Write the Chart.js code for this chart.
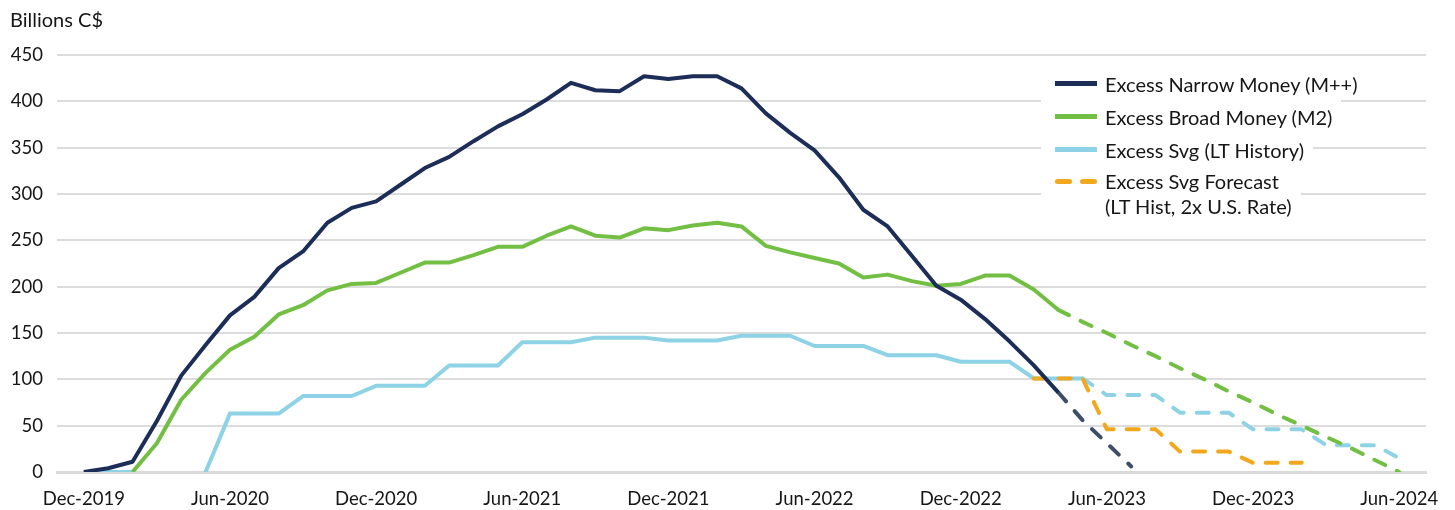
<!DOCTYPE html>
<html>
<head>
<meta charset="utf-8">
<script src="https://cdn.jsdelivr.net/npm/chart.js@4/dist/chart.umd.min.js"></script>
<style>
  body { margin: 0; background: #fff; font-family: Lato, sans-serif; color: #161616; }
  #wrap { position: relative; width: 1455px; height: 510px; }
  #unit { position: absolute; left: 10px; top: 7px; font-size: 20px; }
  #legend { position: absolute; left: 1041px; top: 67px; font-size: 20px; }
  .row { display: flex; align-items: center; height: 33px; background: #fff; width: fit-content; padding-right: 9px; }
  .row.two { align-items: flex-start; height: auto; padding-top: 3px; line-height: 25px; }
  .sw { width: 42px; height: 5px; margin: 0 8px 0 14px; flex: none; }
  .two .sw { margin-top: 10px; }
  .dash { display: flex; justify-content: space-between; }
  .dash span { width: 17px; height: 5px; border-radius: 3px; background: #f2a81e; }
</style>
</head>
<body>
<div id="wrap">
  <canvas id="moneyChart" width="1455" height="510"></canvas>
  <div id="unit">Billions C$</div>
  <div id="legend">
    <div class="row"><div class="sw" style="background:#1c2e58"></div>Excess Narrow Money (M++)</div>
    <div class="row"><div class="sw" style="background:#72bf44"></div>Excess Broad Money (M2)</div>
    <div class="row"><div class="sw" style="background:#8dd2e5"></div>Excess Svg (LT History)</div>
    <div class="row two"><div class="sw dash"><span></span><span></span></div><div>Excess Svg Forecast<br>(LT Hist, 2x U.S. Rate)</div></div>
  </div>
</div>
<script>
// Months from Dec-2019 (index 0) to Jun-2024 (index 54)
const tickPos = [0, 6, 12, 18, 24, 30, 36, 42, 48, 54];
const tickLabels = ['Dec-2019', 'Jun-2020', 'Dec-2020', 'Jun-2021', 'Dec-2021',
    'Jun-2022', 'Dec-2022', 'Jun-2023', 'Dec-2023', 'Jun-2024'];

const narrow = [0, 4, 11, 55, 104, 137, 169, 189, 220, 238, 269, 285,
    292, 310, 328, 340, 357, 373, 386, 402, 420, 412, 411, 427,
    424, 427, 427, 414, 387, 366, 347, 318, 283, 265, 233, 201,
    186, 165, 141, 115, 86];
const narrowFcst = {40: 86, 41: 56, 42: 31, 43: 6};

const broad = [null, null, 0, 31, 78, 107, 132, 146, 170, 180, 196, 203,
    204, 215, 226, 226, 234, 243, 243, 255, 265, 255, 253, 263,
    261, 266, 269, 265, 244, 237, 231, 225, 210, 213, 206, 201,
    203, 212, 212, 197, 175];
const broadFcst = {40: 175, 41: 162, 42: 150, 43: 137, 44: 125, 45: 112, 46: 100,
    47: 87, 48: 75, 49: 62, 50: 50, 51: 38, 52: 26, 53: 13, 54: 0};

const saving = [0, 0, 0, -40, -40, 0, 63, 63, 63, 82, 82, 82,
    93, 93, 93, 115, 115, 115, 140, 140, 140, 145, 145, 145,
    142, 142, 142, 147, 147, 147, 136, 136, 136, 126, 126, 126,
    119, 119, 119, 101, 101, 101];
const savingFcst = {41: 101, 42: 83, 43: 83, 44: 83, 45: 64, 46: 64, 47: 64,
    48: 46, 49: 46, 50: 46, 51: 29, 52: 29, 53: 29, 54: 15};

const savingUS = {39: 101, 40: 101, 41: 101, 42: 46, 43: 46, 44: 46,
    45: 22, 46: 22, 47: 22, 48: 10, 49: 10, 50: 10};

function pts(arr) {
    return arr.map((v, i) => ({x: i, y: v}));
}
function fpts(obj) {
    return Object.keys(obj).map(k => ({x: +k, y: obj[k]}));
}

const dash = [12, 13];
const base = {borderWidth: 4, pointRadius: 0, tension: 0, borderJoinStyle: 'round', fill: false};

const ctx = document.getElementById('moneyChart').getContext('2d');
const moneyChart = new Chart(ctx, {
    type: 'line',
    data: {
        datasets: [
            Object.assign({label: 'Excess Narrow Money (M++)', data: pts(narrow), borderColor: '#1c2e58'}, base),
            Object.assign({label: 'narrow fcst', data: fpts(narrowFcst), borderColor: '#3e4e68',
                borderDash: dash, borderCapStyle: 'round'}, base),
            Object.assign({label: 'Excess Broad Money (M2)', data: pts(broad), borderColor: '#72bf44'}, base),
            Object.assign({label: 'broad fcst', data: fpts(broadFcst), borderColor: '#72bf44',
                borderDash: dash, borderCapStyle: 'round'}, base),
            Object.assign({label: 'Excess Svg Forecast (LT Hist, 2x U.S. Rate)', data: fpts(savingUS), borderColor: '#f2a81e',
                borderDash: dash, borderCapStyle: 'round'}, base),
            Object.assign({label: 'Excess Svg (LT History)', data: pts(saving), borderColor: '#8dd2e5'}, base),
            Object.assign({label: 'svg fcst', data: fpts(savingFcst), borderColor: '#8dd2e5',
                borderDash: dash, borderCapStyle: 'round'}, base)
        ]
    },
    options: {
        responsive: false,
        animation: false,
        layout: {padding: {top: 55, right: 29, left: 0, bottom: 0}},
        plugins: {legend: {display: false}, tooltip: {enabled: false}},
        scales: {
            x: {
                type: 'linear',
                min: -1.1,
                max: 55.1,
                afterBuildTicks: function (axis) {
                    axis.ticks = tickPos.map(v => ({value: v}));
                },
                afterFit: function (scale) { scale.height = 38; },
                ticks: {
                    autoSkip: false,
                    maxRotation: 0,
                    padding: 8,
                    color: '#161616',
                    font: {family: 'Lato', size: 18.5},
                    callback: function (v) { return tickLabels[tickPos.indexOf(v)]; }
                },
                grid: {display: false},
                border: {display: true, color: '#d9d9d9', width: 3}
            },
            y: {
                min: 0,
                max: 450,
                afterFit: function (scale) { scale.width = 57; },
                ticks: {
                    stepSize: 50,
                    padding: 14,
                    color: '#161616',
                    font: {family: 'Lato', size: 18.5}
                },
                grid: {color: '#dcdcdc', lineWidth: 2, drawTicks: false},
                border: {display: false}
            }
        }
    }
});
</script>
</body>
</html>
